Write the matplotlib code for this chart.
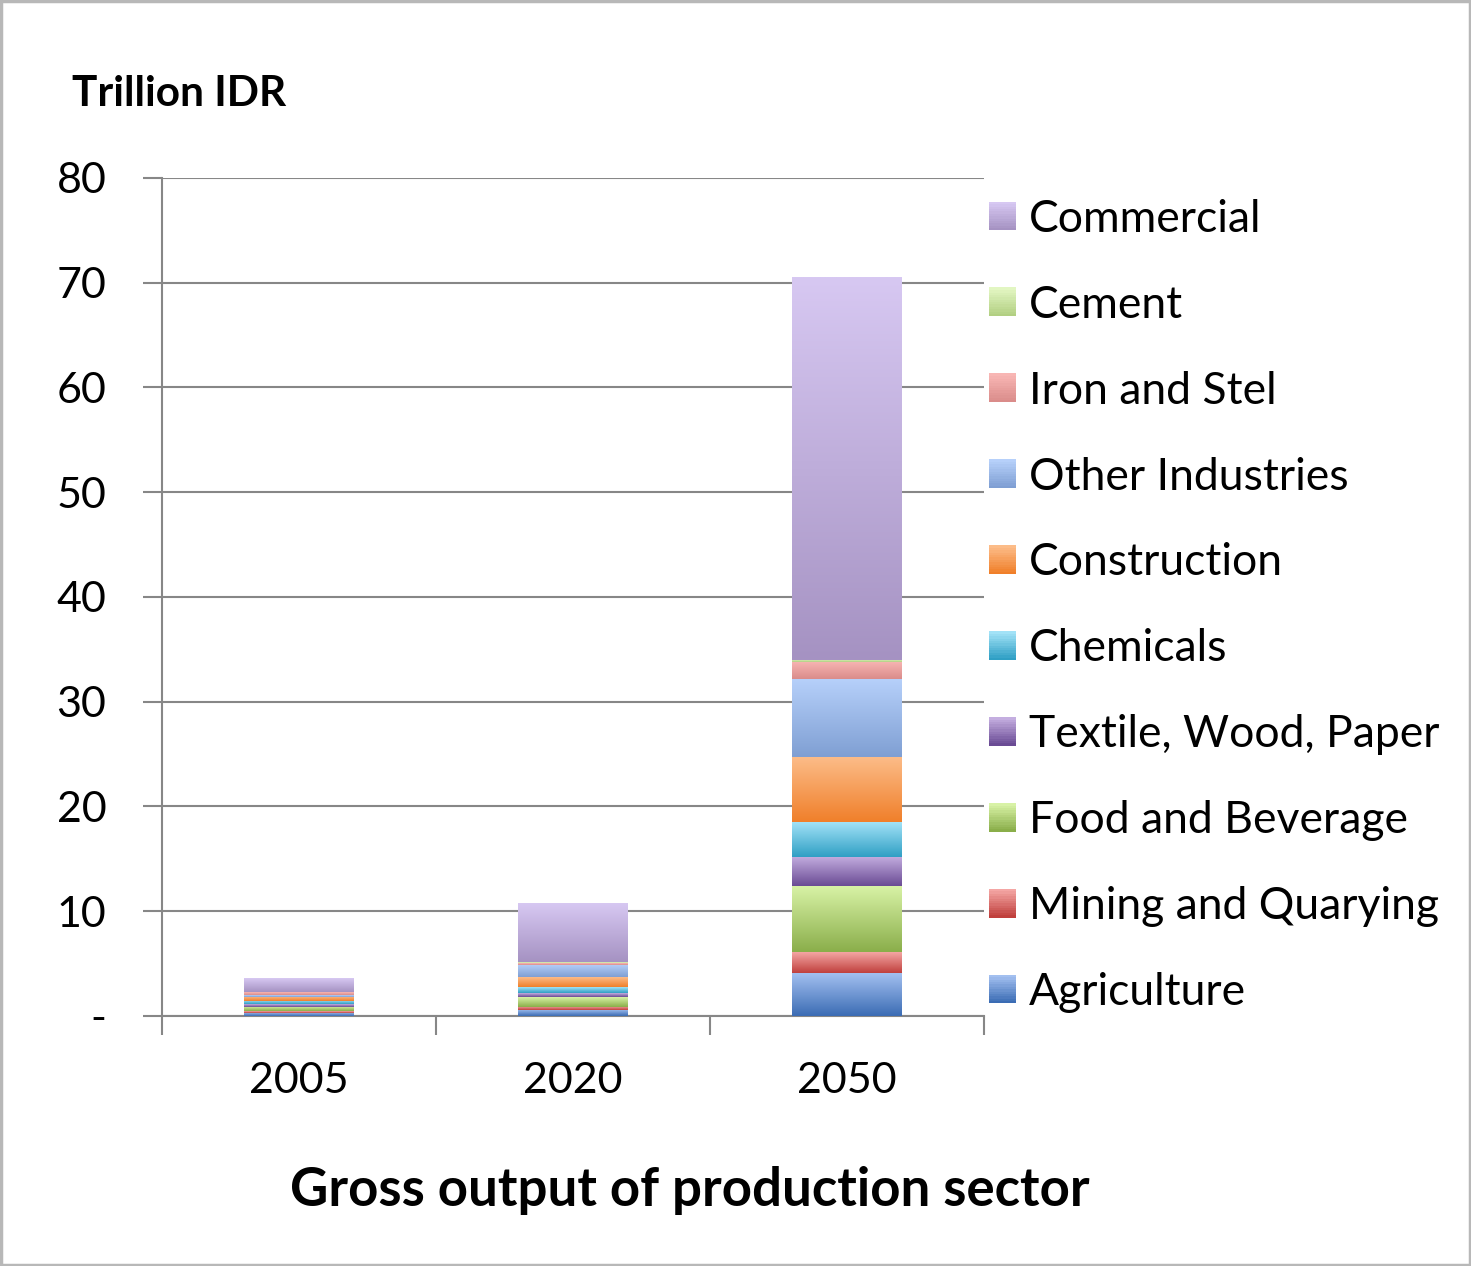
import matplotlib
matplotlib.use('Agg')
import numpy as np
import matplotlib.pyplot as plt
from matplotlib.colors import LinearSegmentedColormap
from matplotlib.patches import Rectangle, Patch
from matplotlib.legend_handler import HandlerBase

plt.rcParams['font.family'] = ['Lato', 'DejaVu Sans']

# data (trillion IDR)
years = ['2005', '2020', '2050']
sectors = ['Agriculture', 'Mining and Quarying', 'Food and Beverage',
           'Textile, Wood, Paper', 'Chemicals', 'Construction',
           'Other Industries', 'Iron and Stel', 'Cement', 'Commercial']
agriculture = [0.32, 0.60, 4.10]
mining = [0.16, 0.30, 2.00]
food = [0.41, 0.95, 6.30]
textile = [0.23, 0.38, 2.77]
chemicals = [0.31, 0.55, 3.34]
construction = [0.41, 0.95, 6.20]
other_ind = [0.16, 1.18, 7.44]
iron = [0.26, 0.19, 1.63]
cement = [0.02, 0.05, 0.20]
commercial = [1.32, 5.57, 36.56]
series = [agriculture, mining, food, textile, chemicals, construction,
          other_ind, iron, cement, commercial]

# (light top, dark bottom) gradient colours, Excel style
grads = [('#a3c0f0', '#3b6cb4'), ('#f4a6a4', '#c0403d'), ('#d8f2a6', '#8aae4a'),
         ('#c4aee0', '#6a4b94'), ('#a2e2f7', '#2f9fc4'), ('#fcbc88', '#f07f2a'),
         ('#b6d0fa', '#7f9fd3'), ('#f8b6b4', '#da8c8a'), ('#e2f6c2', '#b2cf82'),
         ('#d7c8f2', '#a592c2')]


class GradHandler(HandlerBase):
    # legend square drawn as thin strips, light on top
    def __init__(self, top, bot):
        super().__init__()
        self.cmap = LinearSegmentedColormap.from_list('h', [bot, top])

    def create_artists(self, legend, orig, xd, yd, w, h, fontsize, trans):
        n = 12
        arts = []
        for i in range(n):
            r = Rectangle((-xd, -yd + h * i / n), w, h / n + 0.3,
                          facecolor=self.cmap(i / (n - 1)), edgecolor='none',
                          transform=trans)
            arts.append(r)
        return arts


fig = plt.figure(figsize=(14.71, 12.66), dpi=100)
fig.patches.append(Rectangle((0.001, 0.001), 0.998, 0.998, transform=fig.transFigure,
                             fill=False, edgecolor='#b8b8b8', linewidth=2.5))
ax = fig.add_axes([0.1101, 0.1975, 0.5588, 0.6619])

x = np.arange(len(years))
width = 0.4
bottom = np.zeros(len(years))
grad = np.linspace(0, 1, 256).reshape(-1, 1)
for vals, (top_c, bot_c) in zip(series, grads):
    bars = ax.bar(x, vals, width, bottom=bottom, color=bot_c, zorder=2, linewidth=0)
    cmap = LinearSegmentedColormap.from_list('g', [bot_c, top_c])
    for b in bars:
        x0, y0 = b.get_x(), b.get_y()
        ax.imshow(grad, cmap=cmap, origin='lower', aspect='auto', zorder=3,
                  extent=[x0, x0 + b.get_width(), y0, y0 + b.get_height()])
    bottom += np.array(vals)

ax.set_xlim(-0.5, 2.5)
ax.set_ylim(0, 80)
ax.set_yticks(np.arange(0, 81, 10))
ax.set_yticklabels(['-'] + [str(v) for v in range(10, 81, 10)])
ax.yaxis.grid(True, color='#878787', linewidth=1.5, zorder=1)
ax.set_axisbelow(True)
ax.set_xticks(x)
ax.set_xticklabels(years)
ax.set_xticks([-0.5, 0.5, 1.5, 2.5], minor=True)
ax.tick_params(axis='x', which='major', length=0, pad=33, labelsize=31)
ax.tick_params(axis='x', which='minor', length=14, width=1.5, color='#878787')
ax.tick_params(axis='y', length=14, width=1.5, color='#878787', pad=26, labelsize=31)
for s in ['top', 'right']:
    ax.spines[s].set_visible(False)
for s in ['left', 'bottom']:
    ax.spines[s].set_color('#878787')
    ax.spines[s].set_linewidth(1.5)

handles = [Patch(facecolor=c[1]) for c in grads][::-1]
hmap = {h: GradHandler(*c) for h, c in zip(handles, grads[::-1])}
fig.legend(handles, sectors[::-1], handler_map=hmap, loc='upper left',
           bbox_to_anchor=(0.645, 0.8745), frameon=False, fontsize=32,
           labelspacing=1.01, handlelength=0.61, handleheight=0.61,
           handletextpad=0.29)

fig.text(0.049, 0.926, 'Trillion IDR', fontsize=30.5, fontweight='bold', va='center')
fig.text(0.469, 0.06, 'Gross output of production sector', fontsize=38,
         fontweight='bold', ha='center', va='center')

fig.savefig('out.png', dpi=100)
